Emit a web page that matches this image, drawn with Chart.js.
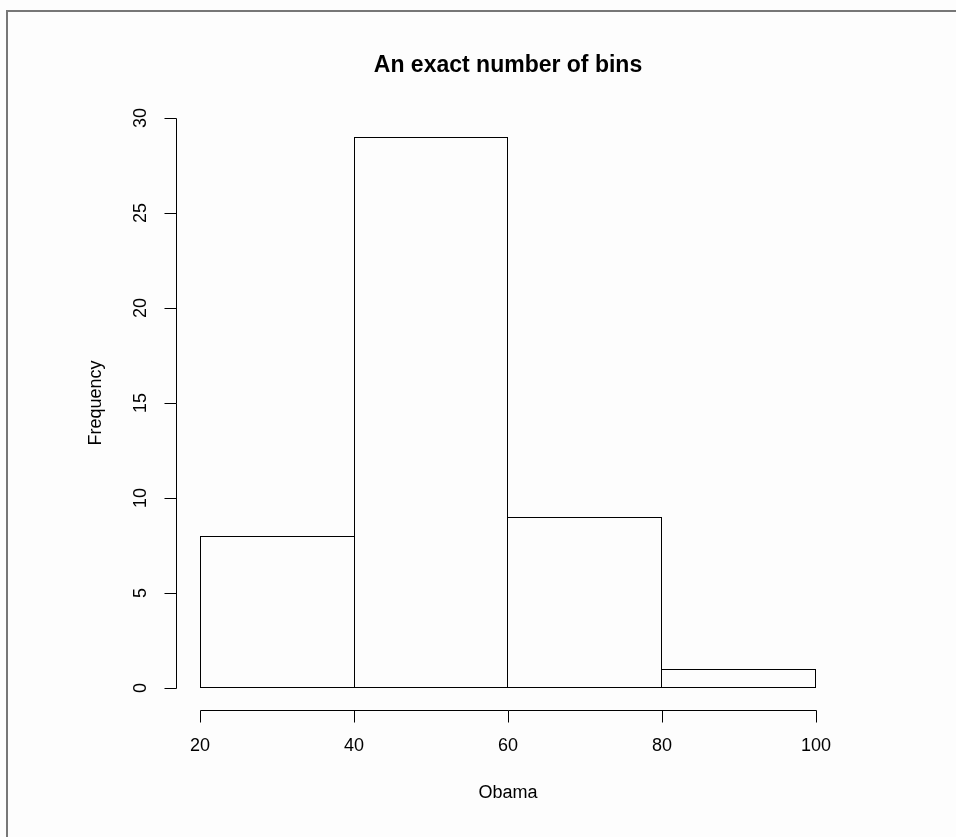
<!DOCTYPE html>
<html>
<head>
<meta charset="utf-8">
<title>An exact number of bins</title>
<script src="https://cdn.jsdelivr.net/npm/chart.js@4/dist/chart.umd.min.js"></script>
<style>
  body { margin: 0; background: #fff; }
  #wrap { position: relative; width: 956px; height: 837px; background: #fdfdfd; }
  #frame { position: absolute; left: 6px; top: 10px; right: 0; bottom: 0;
           border-top: 2px solid #777; border-left: 2px solid #777; pointer-events: none; }
  canvas { position: absolute; left: 0; top: 0; }
</style>
</head>
<body>
<div id="wrap">
  <canvas id="hist" width="956" height="837"></canvas>
  <div id="frame"></div>
</div>
<script>
const title = 'An exact number of bins';
const xTitle = 'Obama';
const yTitle = 'Frequency';

// bin edges and counts
const binEdges = [20, 40, 60, 80, 100];
const counts = [8, 29, 9, 1];

const xTicks = [20, 40, 60, 80, 100];
const yTicks = [0, 5, 10, 15, 20, 25, 30];

const points = counts.map((c, i) => ({ x: (binEdges[i] + binEdges[i + 1]) / 2, y: c }));

const FONT = '"Liberation Sans", Arial, Helvetica, sans-serif';

// shared edges between neighbouring bars get drawn only once (by the taller bar)
function barBorder(ctx) {
  const i = ctx.dataIndex;
  const last = counts.length - 1;
  return {
    top: 1,
    bottom: 1,
    left: (i === 0 || counts[i] >= counts[i - 1]) ? 1 : 0,
    right: (i === last || counts[i] > counts[i + 1]) ? 1 : 0
  };
}

// R-style detached axes, tick labels and titles
const rAxes = {
  id: 'rAxes',
  afterDraw(chart) {
    const { ctx, chartArea, scales } = chart;
    const xs = scales.x, ys = scales.y;
    const axisX = chartArea.left - 24;
    const axisY = chartArea.bottom + 22;
    const tickLen = 12;
    const crisp = v => Math.round(v) + 0.5;

    ctx.save();
    ctx.strokeStyle = '#000';
    ctx.lineWidth = 1;
    ctx.fillStyle = '#000';

    // y axis
    const yTop = crisp(ys.getPixelForValue(yTicks[yTicks.length - 1]));
    const yBot = crisp(ys.getPixelForValue(yTicks[0]));
    ctx.beginPath();
    ctx.moveTo(crisp(axisX), yTop);
    ctx.lineTo(crisp(axisX), yBot);
    yTicks.forEach(t => {
      const py = crisp(ys.getPixelForValue(t));
      ctx.moveTo(crisp(axisX), py);
      ctx.lineTo(crisp(axisX) - tickLen, py);
    });
    ctx.stroke();

    ctx.font = '18px ' + FONT;
    ctx.textAlign = 'center';
    ctx.textBaseline = 'middle';
    yTicks.forEach(t => {
      const py = ys.getPixelForValue(t);
      ctx.save();
      ctx.translate(axisX - 35, py);
      ctx.rotate(-Math.PI / 2);
      ctx.fillText(String(t), 0, 0);
      ctx.restore();
    });

    // x axis
    const xL = crisp(xs.getPixelForValue(xTicks[0]));
    const xR = crisp(xs.getPixelForValue(xTicks[xTicks.length - 1]));
    ctx.beginPath();
    ctx.moveTo(xL, crisp(axisY));
    ctx.lineTo(xR, crisp(axisY));
    xTicks.forEach(t => {
      const px = crisp(xs.getPixelForValue(t));
      ctx.moveTo(px, crisp(axisY));
      ctx.lineTo(px, crisp(axisY) + tickLen);
    });
    ctx.stroke();

    xTicks.forEach(t => {
      ctx.fillText(String(t), xs.getPixelForValue(t), axisY + 36);
    });

    // axis titles
    const midX = (chartArea.left + chartArea.right) / 2;
    const midY = (chartArea.top + chartArea.bottom) / 2;
    ctx.fillText(xTitle, midX, axisY + 83);
    ctx.save();
    ctx.translate(96, midY);
    ctx.rotate(-Math.PI / 2);
    ctx.fillText(yTitle, 0, 0);
    ctx.restore();

    // main title
    ctx.font = 'bold 23px ' + FONT;
    ctx.fillText(title, midX, 66);
    ctx.restore();
  }
};

new Chart(document.getElementById('hist'), {
  type: 'bar',
  data: {
    datasets: [{
      data: points,
      backgroundColor: 'rgba(255,255,255,0)',
      borderColor: '#000',
      borderWidth: barBorder,
      borderSkipped: false,
      inflateAmount: 0,
      barPercentage: 1,
      categoryPercentage: 1
    }]
  },
  options: {
    responsive: false,
    animation: false,
    devicePixelRatio: 1,
    layout: { padding: { left: 200, right: 140, top: 118, bottom: 149 } },
    plugins: { legend: { display: false }, tooltip: { enabled: false } },
    scales: {
      x: { type: 'linear', min: 20, max: 100, offset: false, ticks: { stepSize: 20 }, display: false },
      y: { min: 0, max: 30, display: false }
    }
  },
  plugins: [rAxes]
});
</script>
</body>
</html>
